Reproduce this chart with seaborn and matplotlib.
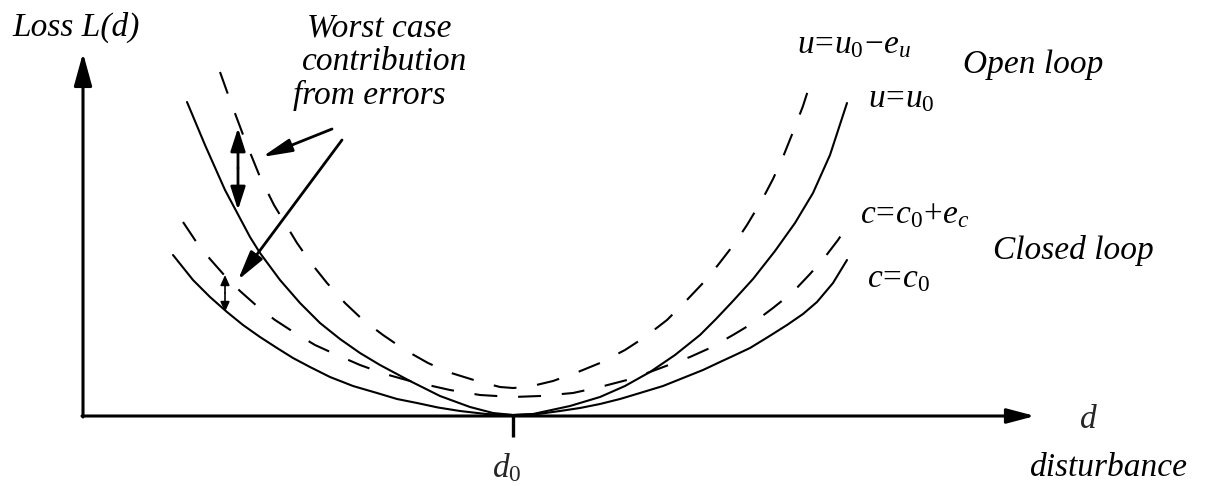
import matplotlib
matplotlib.use("Agg")
import matplotlib.pyplot as plt
import seaborn as sns

# ---------------- data (d measured from d0, L = loss) ----------------
open_nominal_d = [-3.26, -3.08, -2.88, -2.63, -2.53, -2.33, -2.13, -1.93, -1.73, -1.53, -1.33, -1.03,
                  -0.73, -0.43, -0.20, 0.00, 0.20, 0.57, 0.87, 1.12, 1.37, 1.62, 1.87, 2.03, 2.20,
                  2.40, 2.62, 2.82, 3.00, 3.17, 3.34]
open_nominal_L = [3.13, 2.70, 2.25, 1.78, 1.62, 1.35, 1.12, 0.92, 0.76, 0.62, 0.50, 0.34,
                  0.19, 0.08, 0.02, 0.00, 0.01, 0.09, 0.18, 0.29, 0.43, 0.60, 0.80, 0.96, 1.14,
                  1.36, 1.64, 1.92, 2.22, 2.60, 3.12]

open_error_d = [-2.93, -2.83, -2.68, -2.53, -2.39, -2.16, -2.02, -1.86, -1.68, -1.50, -1.30, -1.08,
                -0.85, -0.65, -0.36, -0.13, 0.00, 0.15, 0.40, 0.65, 0.87, 1.12, 1.32, 1.54, 1.72,
                1.90, 2.05, 2.22, 2.34, 2.49, 2.60, 2.70, 2.80, 2.90, 2.99]
open_error_L = [3.43, 3.15, 2.75, 2.38, 2.10, 1.72, 1.52, 1.32, 1.12, 0.95, 0.80, 0.65,
                0.52, 0.43, 0.34, 0.28, 0.27, 0.28, 0.34, 0.43, 0.52, 0.65, 0.78, 0.95, 1.13,
                1.32, 1.50, 1.72, 1.90, 2.15, 2.36, 2.58, 2.83, 3.09, 3.37]

closed_nominal_d = [-3.40, -3.20, -3.03, -2.86, -2.70, -2.53, -2.36, -2.20, -2.03, -1.83, -1.60,
                    -1.36, -1.16, -0.96, -0.75, -0.53, -0.27, 0.00, 0.25, 0.47, 0.67, 0.87,
                    1.07, 1.27, 1.50, 1.70, 1.90, 2.07, 2.20, 2.37, 2.55, 2.74, 2.90, 3.04,
                    3.20, 3.34]
closed_nominal_L = [1.60, 1.35, 1.18, 1.03, 0.90, 0.78, 0.67, 0.57, 0.48, 0.38, 0.29,
                    0.22, 0.16, 0.12, 0.075, 0.04, 0.01, 0.00, 0.01, 0.04, 0.07, 0.11,
                    0.16, 0.22, 0.29, 0.37, 0.45, 0.53, 0.59, 0.67, 0.78, 0.90, 1.01, 1.13,
                    1.32, 1.55]

closed_error_d = [-3.30, -3.18, -3.03, -2.88, -2.73, -2.55, -2.38, -2.18, -1.98, -1.76, -1.53,
                  -1.28, -1.03, -0.63, -0.33, 0.00, 0.27, 0.60, 0.87, 1.14, 1.37, 1.77, 1.97,
                  2.20, 2.40, 2.60, 2.80, 2.97, 3.12, 3.25, 3.33]
closed_error_L = [1.93, 1.75, 1.56, 1.39, 1.24, 1.08, 0.95, 0.82, 0.70, 0.60, 0.50,
                  0.41, 0.34, 0.25, 0.20, 0.18, 0.19, 0.22, 0.28, 0.35, 0.43, 0.58, 0.67,
                  0.80, 0.92, 1.07, 1.23, 1.41, 1.58, 1.75, 1.87]

curve_labels = [r"$u\!=\!u_{\mathit{0}}\!-\!e_u$", r"$u\!=\!u_{\mathit{0}}$",
                r"$c\!=\!c_{\mathit{0}}\!+\!e_c$", r"$c\!=\!c_{\mathit{0}}$"]
group_labels = ["Open loop", "Closed loop"]
d0_value = 0.0

# ---------------- style ----------------
sns.set_style("white")
plt.rcParams["font.family"] = ["Liberation Serif", "DejaVu Serif"]
plt.rcParams["mathtext.fontset"] = "custom"
plt.rcParams["mathtext.rm"] = "Liberation Serif"
plt.rcParams["mathtext.it"] = "Liberation Serif:italic"

fig = plt.figure(figsize=(12.1, 4.86), dpi=100)
ax = fig.add_axes([0, 0, 1, 1])
ax.set_xlim(-5.13, 6.97)
ax.set_ylim(-0.71, 4.15)
ax.axis("off")

dash = (0, (11, 10))
for d, L, ls in [(open_nominal_d, open_nominal_L, "-"),
                 (open_error_d, open_error_L, dash),
                 (closed_nominal_d, closed_nominal_L, "-"),
                 (closed_error_d, closed_error_L, dash)]:
    sns.lineplot(x=d, y=L, ax=ax, color="black", lw=1.5, linestyle=ls,
                 sort=False, estimator=None,
                 solid_joinstyle="round", dash_joinstyle="round")


def arrow(tail, tip, style, lw, ms):
    ax.annotate("", xy=tip, xytext=tail,
                arrowprops=dict(arrowstyle=style, lw=lw, color="black",
                                mutation_scale=ms, shrinkA=0, shrinkB=0))


# axes with arrows
arrow((-4.30, -0.02), (-4.30, 3.62), "-|>,head_length=2.0,head_width=0.55", 2.2, 10)
arrow((-4.31, -0.01), (5.22, -0.01), "-|>,head_length=1.7,head_width=0.45", 2.2, 10)
ax.plot([d0_value, d0_value], [-0.01, -0.22], color="black", lw=2.4, solid_capstyle="butt")

# worst-case error arrows
arrow((-2.75, 2.47), (-2.75, 2.87), "-|>,head_length=1.4,head_width=0.45", 2.0, 10)
arrow((-2.75, 2.47), (-2.75, 2.05), "-|>,head_length=1.4,head_width=0.45", 2.0, 10)
arrow((-2.88, 1.22), (-2.88, 1.40), "-|>,head_length=1.0,head_width=0.45", 1.2, 6)
arrow((-2.88, 1.22), (-2.88, 1.03), "-|>,head_length=1.0,head_width=0.45", 1.2, 6)
arrow((-1.81, 2.86), (-2.51, 2.58), "-|>,head_length=1.8,head_width=0.4", 2.0, 10)
arrow((-1.71, 2.75), (-2.75, 1.35), "-|>,head_length=1.8,head_width=0.45", 2.0, 10)

# texts
fs = 24
tk = dict(style="italic", size=fs, va="center", ha="left", color="black")
ax.text(-5.01, 3.88, "Loss L(d)", **tk)
ax.text(-2.06, 3.87, "Worst case", **tk)
ax.text(-2.11, 3.53, "contribution", **tk)
ax.text(-2.20, 3.20, "from errors", **tk)
ax.text(2.84, 3.70, curve_labels[0], **tk)
ax.text(4.50, 3.50, group_labels[0], **tk)
ax.text(3.55, 3.16, curve_labels[1], **tk)
ax.text(3.47, 2.00, curve_labels[2], **tk)
ax.text(4.80, 1.65, group_labels[1], **tk)
ax.text(3.54, 1.36, curve_labels[3], **tk)
ax.text(5.75, -0.05, "d", style="italic", size=fs, va="center", ha="center")
ax.text(5.17, -0.53, "disturbance", **tk)
ax.text(-0.06, -0.53, r"$d_{\mathit{0}}$", style="italic", size=fs, va="center", ha="center")

fig.savefig("out.png", dpi=100)
